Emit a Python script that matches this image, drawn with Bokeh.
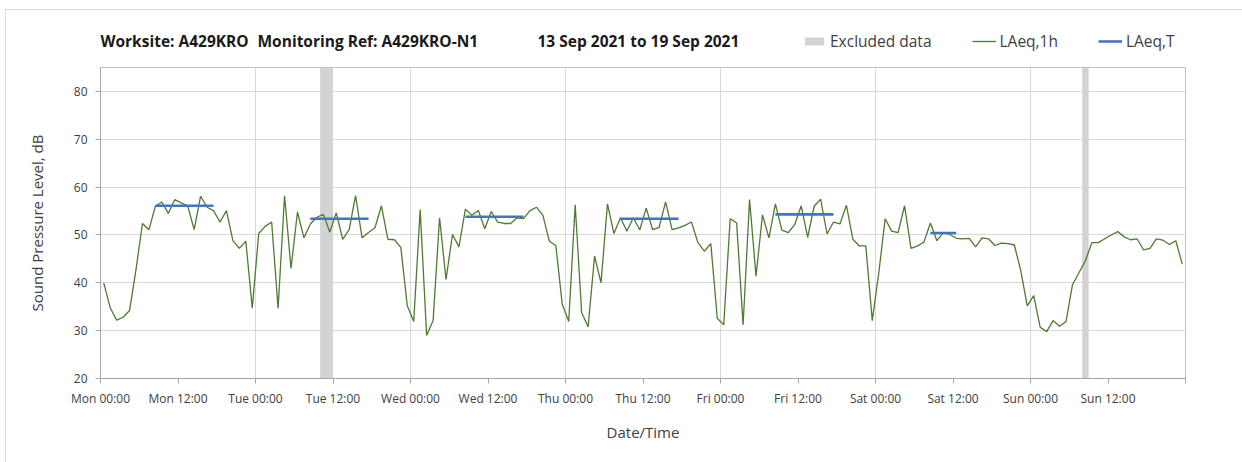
import numpy as np
from bokeh.plotting import figure
from bokeh.layouts import column
from bokeh.models import FixedTicker, Label, Legend, LegendItem, Range1d
from bokeh.embed import file_html
from bokeh.resources import INLINE

# ---------------- data ----------------
laeq_1h = [
    40.0, 34.8, 32.2, 32.8, 34.2, 42.8, 52.4, 51.1, 56.0, 56.9, 54.5, 57.4,
    56.7, 56.1, 51.1, 58.1, 55.8, 55.1, 52.7, 55.1, 48.8, 47.2, 48.7, 34.7,
    50.3, 51.8, 52.7, 34.7, 58.2, 43.0, 54.8, 49.4, 52.3, 53.7, 54.3, 50.6,
    54.6, 49.1, 51.1, 58.2, 49.4, 50.5, 51.5, 56.1, 49.1, 49.0, 47.4, 35.2,
    31.9, 55.3, 29.0, 32.1, 53.6, 40.7, 50.1, 47.5, 55.4, 54.1, 55.1, 51.3,
    54.9, 52.7, 52.4, 52.4, 53.6, 53.4, 55.1, 55.8, 54.1, 48.7, 47.8, 35.5,
    31.9, 56.3, 33.8, 30.8, 45.6, 40.0, 56.5, 50.3, 53.6, 50.8, 53.6, 51.1,
    55.6, 51.1, 51.6, 56.9, 51.1, 51.5, 52.0, 52.7, 48.4, 46.6, 48.2, 32.6,
    31.2, 53.4, 52.5, 31.2, 57.4, 41.4, 54.2, 49.4, 56.5, 51.0, 50.5, 52.2,
    56.1, 49.5, 56.0, 57.5, 50.2, 52.7, 52.3, 56.2, 49.1, 47.7, 47.7, 32.1,
    42.0, 53.4, 50.8, 50.5, 56.1, 47.2, 47.7, 48.5, 52.5, 48.8, 50.5, 50.1,
    49.3, 49.2, 49.3, 47.5, 49.4, 49.2, 47.8, 48.3, 48.2, 47.9, 42.5, 35.2,
    37.3, 30.7, 29.8, 32.1, 30.9, 31.9, 39.6, 42.1, 44.6, 48.4, 48.4, 49.2,
    50.0, 50.7, 49.6, 49.0, 49.2, 46.9, 47.2, 49.2, 48.9, 48.0, 48.8, 43.9,
]
hour_index = list(range(len(laeq_1h)))          # hours from Mon 00:00

period_start_h = [8, 32, 56, 80, 104, 128]       # LAeq,T periods (hour start)
period_end_h = [18, 42, 66, 90, 114, 133]
laeq_t = [56.1, 53.4, 53.8, 53.4, 54.3, 50.4]

excluded_start_h = [34, 152]
excluded_end_h = [36, 153]

day_names = ["Mon", "Tue", "Wed", "Thu", "Fri", "Sat", "Sun"]
tick_labels = [f"{d} {t}" for d in day_names for t in ("00:00", "12:00")]
y_ticks = [20, 30, 40, 50, 60, 70, 80]

title_parts = ["Worksite: A429KRO", "Monitoring Ref: A429KRO-N1", "13 Sep 2021 to 19 Sep 2021"]
legend_labels = ["Excluded data", "LAeq,1h", "LAeq,T"]

# ---------------- styles ----------------
FONT = "Open Sans"
GREEN = "#4f7a32"
BLUE = "#4472c4"
GREY = "#d3d3d3"

W = 1236
TOP_H = 50
MAIN_H = 402
ML, MT = 94, 7
FW, FH = 1085, 311
MR = W - ML - FW
MB = MAIN_H - MT - FH

# ---------------- header figure (title + legend) ----------------
top = figure(width=W, height=TOP_H, output_backend="svg", toolbar_location=None,
             x_range=Range1d(0, FW), y_range=Range1d(0, TOP_H),
             min_border_left=ML, min_border_right=MR,
             min_border_top=0, min_border_bottom=0, outline_line_color=None)
top.axis.visible = False
top.grid.visible = False
top.background_fill_color = "white"
top.border_fill_color = "white"

for txt, tx in zip(title_parts, [0, 157, 437]):
    top.add_layout(Label(x=tx, y=TOP_H - 30, text=txt,
                         text_font=FONT, text_font_style="bold", text_font_size="15.5px",
                         text_color="#1a1a1a", text_baseline="middle"))

nan = [np.nan]
excl_l = top.quad(left=nan, right=nan, bottom=nan, top=nan, fill_color=GREY, line_color=None)
g_l = top.line(nan, nan, line_color=GREEN, line_width=1.3)
b_l = top.line(nan, nan, line_color=BLUE, line_width=2.6)
legend = Legend(items=[LegendItem(label=legend_labels[0], renderers=[excl_l]),
                       LegendItem(label=legend_labels[1], renderers=[g_l]),
                       LegendItem(label=legend_labels[2], renderers=[b_l])],
                orientation="horizontal", location=(702, 8),
                padding=0, margin=0, spacing=40, glyph_width=24, glyph_height=10,
                label_standoff=4, label_height=20,
                label_text_font=FONT, label_text_font_size="15.5px",
                label_text_color="#404040",
                border_line_color=None, background_fill_alpha=0)
top.add_layout(legend, "center")

# ---------------- main figure ----------------
p = figure(width=W, height=MAIN_H, output_backend="svg", toolbar_location=None,
           x_range=Range1d(0, 168), y_range=Range1d(20, 85),
           min_border_left=ML, min_border_right=MR,
           min_border_top=MT, min_border_bottom=MB)
p.outline_line_color = "#bfbfbf"
p.background_fill_color = "white"
p.border_fill_color = "white"

hours_mid = np.array(hour_index) + 0.5

p.quad(left=excluded_start_h, right=excluded_end_h, bottom=20, top=85,
       fill_color=GREY, line_color=None)
p.line(hours_mid, laeq_1h, line_color=GREEN, line_width=1.3)
x0 = np.array(period_start_h) + 0.5
x1 = np.array(period_end_h) - 0.5
p.segment(x0=x0, y0=laeq_t, x1=x1, y1=laeq_t, line_color=BLUE, line_width=2.6)

p.xaxis.ticker = FixedTicker(ticks=list(range(0, 169, 12)))
overrides = {i * 12: lab for i, lab in enumerate(tick_labels)}
overrides[168] = ""
p.xaxis.major_label_overrides = overrides
p.yaxis.ticker = FixedTicker(ticks=y_ticks)
for ax in (p.xaxis[0], p.yaxis[0]):
    ax.axis_line_color = "#a6a6a6"
    ax.major_tick_line_color = "#a6a6a6"
    ax.major_tick_out = 5
    ax.major_tick_in = 0
    ax.minor_tick_line_color = None
    ax.major_label_text_font = FONT
    ax.major_label_text_font_size = "12px"
    ax.major_label_text_color = "#404040"
    ax.axis_label_text_font = FONT
    ax.axis_label_text_font_style = "normal"
    ax.axis_label_text_color = "#404040"
    ax.axis_label_text_font_size = "15px"
p.xaxis.axis_label = "Date/Time"
p.yaxis.axis_label = "Sound Pressure Level, dB"
p.xaxis.major_label_standoff = 6
p.xaxis.axis_label_standoff = 12
p.yaxis.major_label_standoff = 8
p.yaxis.axis_label_standoff = 24

p.xgrid.ticker = FixedTicker(ticks=list(range(24, 168, 24)))
p.ygrid.ticker = FixedTicker(ticks=y_ticks[1:])
p.xgrid.grid_line_color = "#d9d9d9"
p.ygrid.grid_line_color = "#d9d9d9"

layout = column(top, p, spacing=0, margin=(9, 0, 0, 5),
                styles={"border": "1px solid #d9d9d9"})

open("out.html", "w").write(file_html(layout, INLINE))
